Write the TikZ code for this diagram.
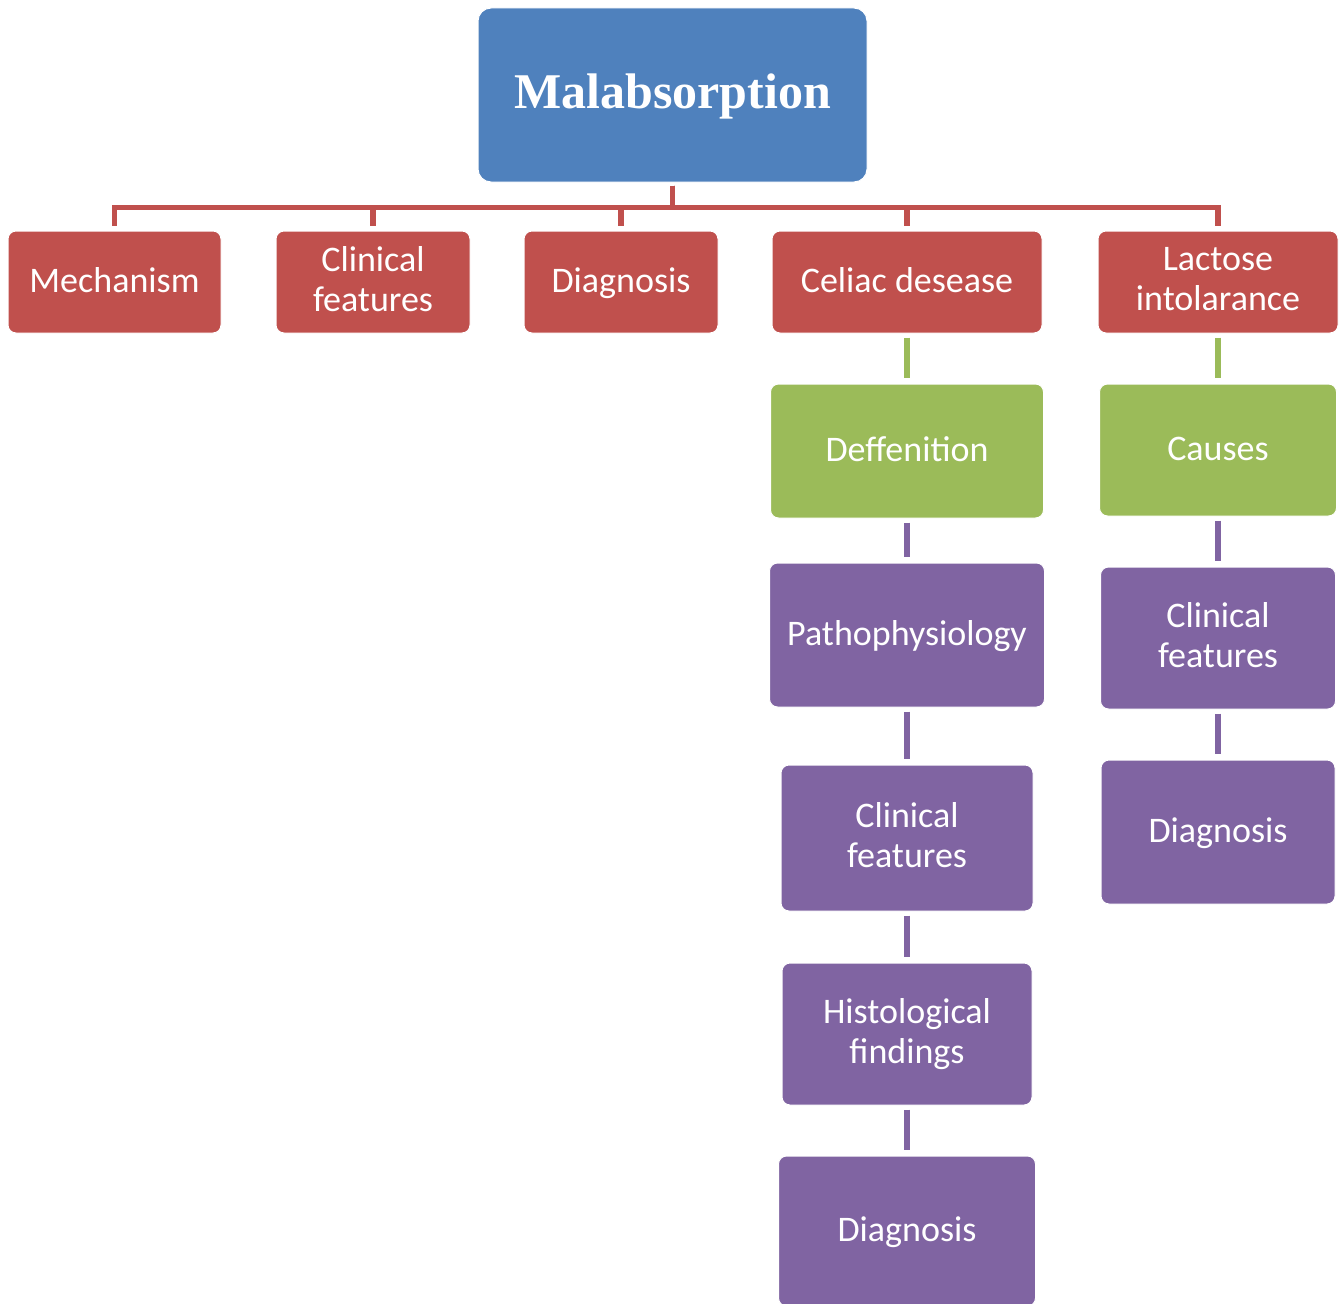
\documentclass[tikz,border=0pt]{standalone}
\usepackage{fontspec}
\setmainfont{Carlito}
\newfontfamily\titlefont{Liberation Serif}
\usepackage{tikz}
\usetikzlibrary{positioning}

\definecolor{topblue}{HTML}{4F81BD}
\definecolor{secred}{HTML}{C0504D}
\definecolor{subgreen}{HTML}{9BBB59}
\definecolor{subpurple}{HTML}{8064A2}

\newcommand{\boxstrut}{\rule[-0.18em]{0pt}{0.92em}}

\tikzset{
    box/.style={rectangle, rounded corners=8pt, draw=white, line width=1pt, text=white, align=center, inner sep=0pt, font=\fontsize{36}{40}\selectfont, execute at begin node=\boxstrut, execute at end node=\boxstrut},
    redbox/.style={box, fill=secred},
    greenbox/.style={box, fill=subgreen},
    purplebox/.style={box, fill=subpurple},
    link/.style={line width=5.5pt, shorten <=4pt, shorten >=6pt},
    buslink/.style={line width=5.5pt, draw=secred, shorten <=3pt, shorten >=5pt}
}

\begin{document}
\begin{tikzpicture}[x=1pt, y=-1pt, node distance=50pt]
    \useasboundingbox (0,0) rectangle (1343,1303);

    % Top
    \node[box, fill=topblue, rounded corners=13pt, minimum width=389pt, minimum height=174pt, font=\titlefont\bfseries\fontsize{50}{55}\selectfont] (malab) at (672.5,95) {Malabsorption};

    % First row
    \node[redbox, minimum width=213pt, minimum height=102pt] (mech) at (114.5,282) {Mechanism};
    \node[redbox, minimum width=194pt, minimum height=102pt] (clin) at (373,282) {Clinical\\features};
    \node[redbox, minimum width=194pt, minimum height=102pt] (diag) at (621,282) {Diagnosis};
    \node[redbox, minimum width=270pt, minimum height=102pt] (celiac) at (907,282) {Celiac desease};
    \node[redbox, minimum width=240pt, minimum height=102pt] (lactose) at (1218,282) {Lactose\\intolarance};

    \draw[buslink] (malab.south) -- ++(0,25) -| (mech.north);
    \draw[buslink] (malab.south) -- ++(0,25) -| (clin.north);
    \draw[buslink] (malab.south) -- ++(0,25) -| (diag.north);
    \draw[buslink] (malab.south) -- ++(0,25) -| (celiac.north);
    \draw[buslink] (malab.south) -- ++(0,25) -| (lactose.north);

    % Celiac column
    \node[greenbox, minimum width=273pt, minimum height=134pt, below=50pt of celiac] (celiac-def) {Deffenition};
    \node[purplebox, minimum width=275pt, minimum height=144pt, below=44pt of celiac-def] (celiac-patho) {Pathophysiology};
    \node[purplebox, minimum width=252pt, minimum height=146pt, below=57pt of celiac-patho] (celiac-clin) {Clinical\\features};
    \node[purplebox, minimum width=250pt, minimum height=142pt, below=51pt of celiac-clin] (celiac-hist) {Histological\\findings};
    \node[purplebox, minimum width=257pt, minimum height=150pt, below=50pt of celiac-hist] (celiac-diag) {Diagnosis};

    \draw[link, subgreen] (celiac) -- (celiac-def);
    \draw[link, subpurple] (celiac-def) -- (celiac-patho);
    \draw[link, subpurple] (celiac-patho) -- (celiac-clin);
    \draw[link, subpurple] (celiac-clin) -- (celiac-hist);
    \draw[link, subpurple] (celiac-hist) -- (celiac-diag);

    % Lactose column
    \node[greenbox, minimum width=237pt, minimum height=132pt, below=50pt of lactose] (lactose-cause) {Causes};
    \node[purplebox, minimum width=235pt, minimum height=142pt, below=50pt of lactose-cause] (lactose-clin) {Clinical\\features};
    \node[purplebox, minimum width=234pt, minimum height=144pt, below=50pt of lactose-clin] (lactose-diag) {Diagnosis};

    \draw[link, subgreen] (lactose) -- (lactose-cause);
    \draw[link, subpurple] (lactose-cause) -- (lactose-clin);
    \draw[link, subpurple] (lactose-clin) -- (lactose-diag);
\end{tikzpicture}
\end{document}
